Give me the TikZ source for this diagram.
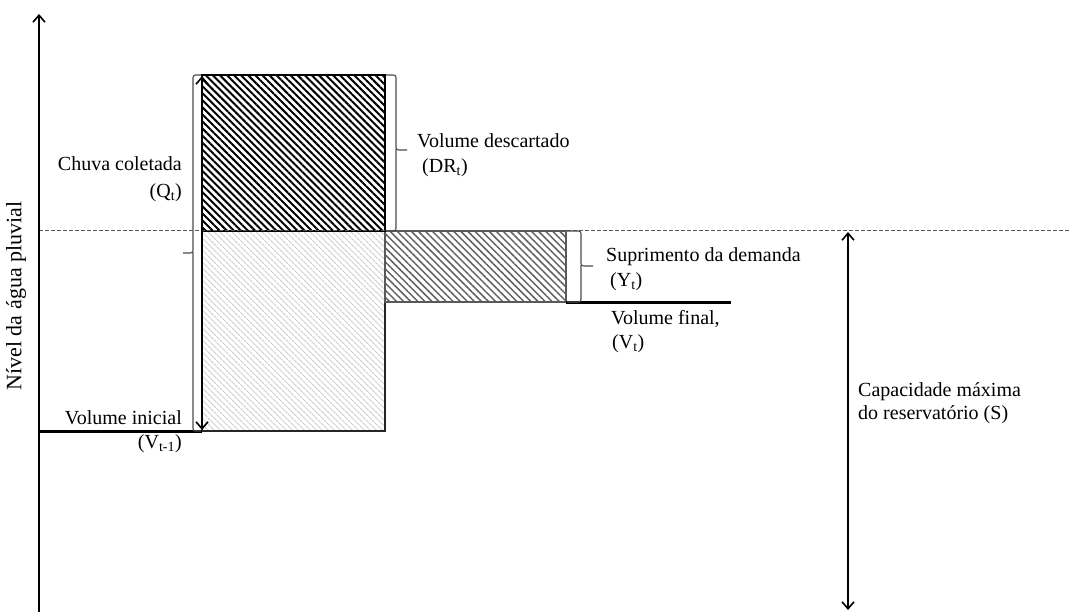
\documentclass[tikz,border=0pt]{standalone}
\usepackage{fontspec}
\setmainfont{Liberation Serif}
\usetikzlibrary{arrows.meta,patterns.meta}
\begin{document}
\begin{tikzpicture}[x=1pt,y=-1pt,
  lbl/.style={font=\fontsize{20}{22}\selectfont, inner sep=0pt},
  axisline/.style={line width=2.4pt},
  bracket/.style={draw=black!70, line width=1.1pt, rounded corners=2.5pt},
  tip/.style={-{Straight Barb[length=7pt,width=12pt,line width=1.6pt]}},
  dtip/.style={{Straight Barb[length=7pt,width=12pt,line width=1.6pt]}-{Straight Barb[length=7pt,width=12pt,line width=1.6pt]}},
]
\useasboundingbox (0,0) rectangle (1091,612);

% coordinates
\coordinate (ybot) at (39,612);
\coordinate (ytop) at (39,14);
\coordinate (dTL) at (202,75);
\coordinate (dBR) at (385,231);
\coordinate (lTL) at (202,231);
\coordinate (lBR) at (385,431);
\coordinate (mTL) at (385,231);
\coordinate (mBR) at (566,302);
\coordinate (dashL) at (39,231);
\coordinate (dashR) at (1070,231);
\coordinate (viL) at (39,431);
\coordinate (viR) at (202,431);
\coordinate (vfL) at (566,302);
\coordinate (vfR) at (731,302);
\coordinate (sTop) at (848,232);
\coordinate (sBot) at (848,610);

% hatched boxes
\path[pattern={Lines[angle=-45,distance=4pt,line width=1.2pt]}, pattern color=black!20]
  (lTL) rectangle (lBR);
\draw[black!85, line width=1.2pt] (lTL) rectangle (lBR);
\path[pattern={Lines[angle=-45,distance=5pt,line width=1.5pt]}, pattern color=black!62]
  (mTL) rectangle (mBR);
\draw[black!65, line width=1.2pt] (mTL) rectangle (mBR);
\path[pattern={Lines[angle=-45,distance=5pt,line width=2pt]}, pattern color=black]
  (dTL) rectangle (dBR);
\draw[black, line width=1.6pt] (dTL) rectangle (dBR);

% dashed level line
\draw[black!65, line width=1pt, dash pattern=on 3.5pt off 2.5pt] (dashL) -- (dashR);

% y axis
\draw[axisline, tip] (ybot) -- (ytop);

% thick level lines
\draw[line width=3pt] (viL) -- (viR);
\draw[line width=3pt] (vfL) -- (vfR);

% arrows
\draw[line width=2.2pt, dtip] (202,76) -- (202,430);
\draw[line width=2pt, dtip] (sTop) -- (sBot);

% brackets
\draw[bracket] (201,75) -| (193,253) -- (183,253);
\draw[bracket] (193,252) |- (201,431);
\draw[bracket] (386,75) -| (396,150) -- (407,150);
\draw[bracket] (396,149) |- (386,231);
\draw[bracket] (567,231) -| (581,266) -- (593,266);
\draw[bracket] (581,265) |- (567,302);

% labels
\node[lbl, anchor=east] (qa) at (182,164) {Chuva coletada};
\node[lbl, anchor=east] (qb) at (182,193) {(Q\textsubscript{t})};
\node[lbl, anchor=west] (da) at (417,141) {Volume descartado};
\node[lbl, anchor=west] (db) at (422,168) {(DR\textsubscript{t})};
\node[lbl, anchor=west] (ya) at (606,257) {Suprimento da demanda};
\node[lbl, anchor=west] (yb) at (610,282) {(Y\textsubscript{t})};
\node[lbl, anchor=west] (fa) at (611,319) {Volume final,};
\node[lbl, anchor=west] (fb) at (612,344) {(V\textsubscript{t})};
\node[lbl, anchor=west] (ca) at (858,392) {Capacidade máxima};
\node[lbl, anchor=west] (cb) at (858,415) {do reservatório (S)};
\node[lbl, anchor=east] (ia) at (182,418) {Volume inicial};
\node[lbl, anchor=east] (ib) at (182,444) {(V\textsubscript{t-1})};
\node[font=\fontsize{22}{24}\selectfont, inner sep=0pt, rotate=90] (ax) at (16,296) {Nível da água pluvial};
\end{tikzpicture}
\end{document}
